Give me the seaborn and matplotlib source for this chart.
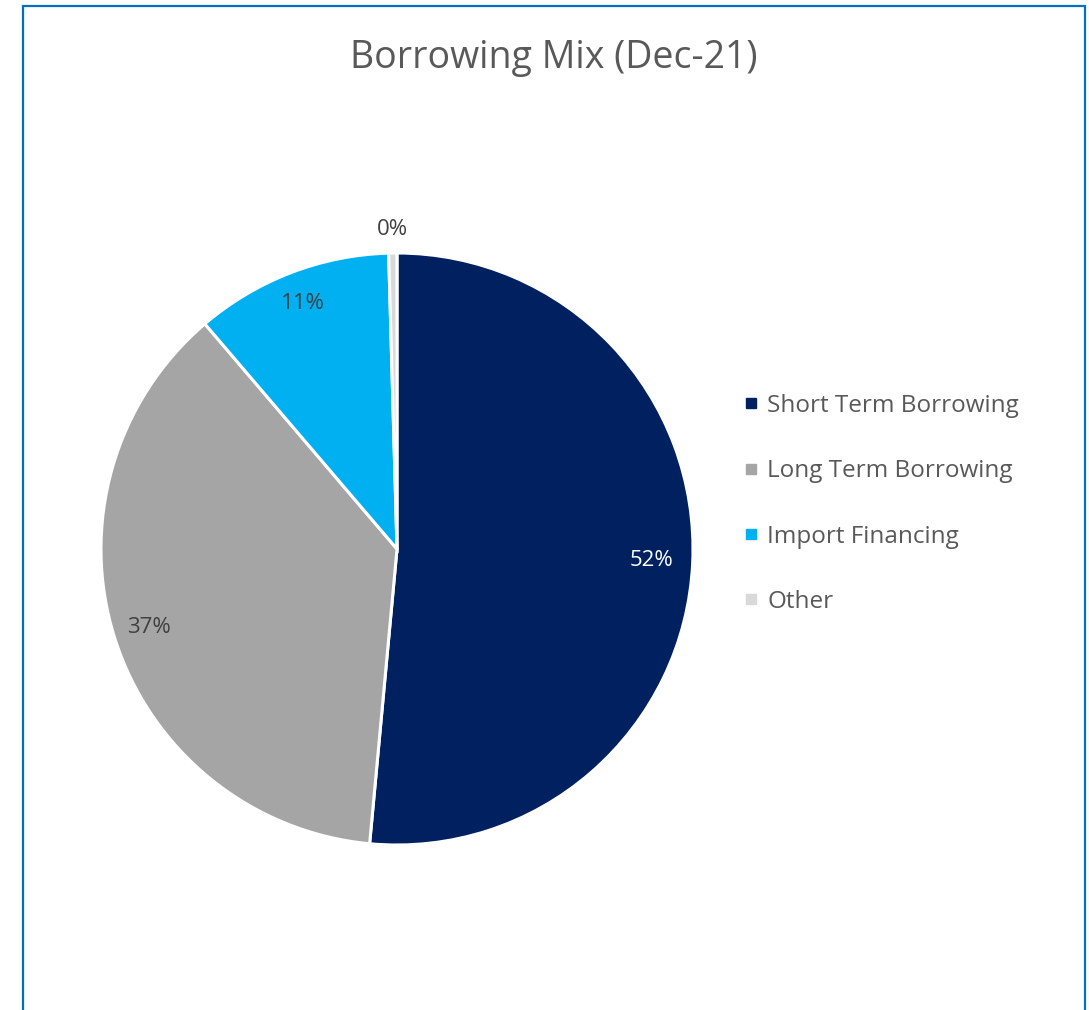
import matplotlib
matplotlib.use("Agg")
import matplotlib.pyplot as plt
from matplotlib.patches import Rectangle
from matplotlib.lines import Line2D
import seaborn as sns
import numpy as np

categories = ["Short Term Borrowing", "Long Term Borrowing", "Import Financing", "Other"]
values = [51.5, 37.3, 10.8, 0.45]
pct_labels = ["52%", "37%", "11%", "0%"]
colors = ["#002060", "#A5A5A5", "#00B0F0", "#D9D9D9"]
label_colors = ["white", "#404040", "#404040", "#404040"]
title = "Borrowing Mix (Dec-21)"

sns.set_theme(style="white")
plt.rcParams['font.family'] = ['Open Sans', 'DejaVu Sans']

W, H = 1089, 1010
fig = plt.figure(figsize=(W / 100, H / 100), dpi=100)
fig.patch.set_facecolor("white")

# frame
fig.add_artist(Rectangle((23 / W, -0.01), (1085 - 23) / W, (H - 6) / H + 0.01,
                         transform=fig.transFigure, fill=False,
                         edgecolor="#0070C0", linewidth=1.6))

cx, cy, R = 397, 549, 296
half = 300
ax = fig.add_axes([(cx - half) / W, (H - cy - half) / H, 2 * half / W, 2 * half / H])
wedges, texts = ax.pie(values, colors=colors, startangle=90, counterclock=False,
                       radius=1.0, wedgeprops=dict(edgecolor="white", linewidth=2.2))
lim = half / R
ax.set_xlim(-lim, lim)
ax.set_ylim(-lim, lim)
ax.set_aspect("equal")
ax.axis("off")

dists = [0.86, 0.88, 0.89, 1.08]
for w, lab, col, d in zip(wedges, pct_labels, label_colors, dists):
    ang = np.deg2rad((w.theta1 + w.theta2) / 2)
    ax.text(d * np.cos(ang), d * np.sin(ang), lab, ha="center", va="center",
            fontsize=16, color=col)

fig.text(554 / W, 1 - 58 / H, title, ha="center", va="center", fontsize=27, color="#595959")

handles = [Line2D([0], [0], marker="s", linestyle="none", markersize=7.5,
                  markerfacecolor=c, markeredgecolor=c) for c in colors]
leg = fig.legend(handles, categories, loc="upper left",
                 bbox_to_anchor=(745 / W, 1 - 394 / H), frameon=False, borderpad=0,
                 borderaxespad=0,
                 fontsize=17.5, labelspacing=1.70, handletextpad=0.41, handlelength=0.5)
for t in leg.get_texts():
    t.set_color("#595959")

fig.savefig("out.png", dpi=100, facecolor="white")
